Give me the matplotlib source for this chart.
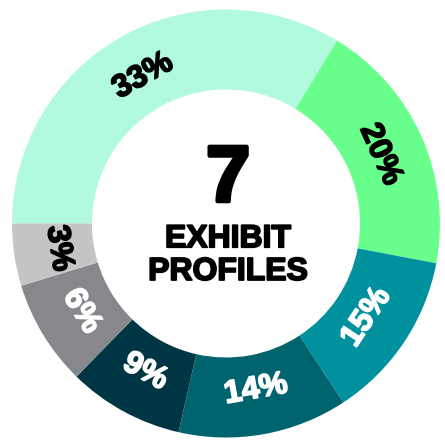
import numpy as np
import matplotlib.pyplot as plt
import matplotlib.patheffects as pe

# Ring shares as drawn (degrees of arc, in % of 360)
shares = [33.7, 19.3, 12.8, 12.8, 8.75, 8.0, 4.7]
labels = ["33%", "20%", "15%", "14%", "9%", "6%", "3%"]
colors = ["#B2FADE", "#69FF8C", "#00919F", "#00646F", "#003643", "#87888C", "#C4C5C7"]
label_colors = ["black", "black", "white", "white", "white", "white", "black"]

center_big = "7"
center_text = "EXHIBIT\nPROFILES"

W, H = 445, 440
R_PX = 214
CX, CY = 226, 440 - 223.5

fig = plt.figure(figsize=(W / 100, H / 100), dpi=100)
ax = fig.add_axes([0, 0, 1, 1])

wedges, _ = ax.pie(
    shares,
    colors=colors,
    startangle=180,
    counterclock=False,
    radius=1,
    wedgeprops=dict(width=80 / R_PX, linewidth=0),
)

font = "Liberation Sans"


def heavy(col, lw):
    # fake a black weight by stroking the glyphs in their own colour
    return [pe.withStroke(linewidth=lw, foreground=col)]


for w, lab, c in zip(wedges, labels, label_colors):
    mid = (w.theta1 + w.theta2) / 2
    mid = (mid + 180) % 360 - 180
    r = 0.79
    x = r * np.cos(np.radians(mid))
    y = r * np.sin(np.radians(mid))
    rot = mid - 90 if mid > 0 else mid + 90
    ax.text(x, y, lab, color=c, fontsize=23, fontweight="bold", family=font,
            ha="center", va="center", rotation=rot, rotation_mode="anchor",
            path_effects=heavy(c, 1.2))

ax.text(0.01, 0.2, center_big, fontsize=57, fontweight="bold", family=font,
        ha="center", va="center", path_effects=heavy("black", 3))
ax.text(0.01, -0.15, center_text, fontsize=23, fontweight="bold", family=font,
        ha="center", va="center", linespacing=1.12,
        path_effects=heavy("black", 1.3))

ax.set_xlim(-CX / R_PX, (W - CX) / R_PX)
ax.set_ylim(-CY / R_PX, (H - CY) / R_PX)
ax.set_aspect("auto")
ax.axis("off")

fig.savefig("out.png", dpi=100, facecolor="white")
